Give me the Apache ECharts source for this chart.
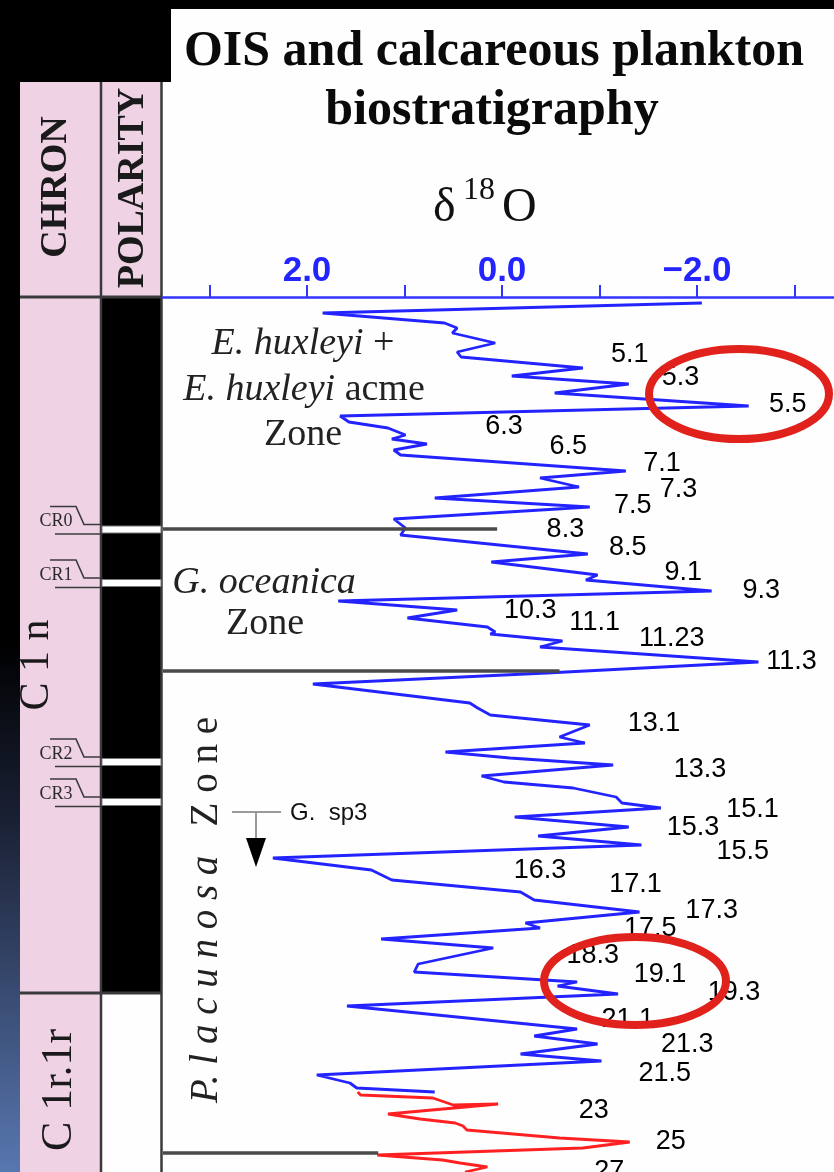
<!DOCTYPE html>
<html><head><meta charset="utf-8">
<script src="https://cdn.jsdelivr.net/npm/echarts@6/dist/echarts.min.js"></script>
<style>html,body{margin:0;padding:0;background:#000}#c{width:834px;height:1172px}</style>
</head><body><div id="c"></div>
<script>
// ---- data (δ18O in ‰, depth in arbitrary core units, downward) ----
const blueD18O = [-2.05,1.84,0.59,0.46,0.51,0.07,0.46,0.42,-0.83,-0.10,-1.30,-0.54,-2.53,1.66,1.57,1.17,0.99,1.13,0.77,1.11,1.04,-1.27,-0.39,-0.79,0.69,-0.90,1.11,0.99,1.04,-0.88,0.11,-0.98,-0.86,-2.15,1.68,0.46,0.97,0.15,0.07,0.12,-0.62,-0.39,-2.63,-0.46,1.94,0.33,0.25,0.12,-0.90,-0.59,-0.85,0.58,-0.08,-1.14,0.21,-0.02,-0.73,-1.17,-1.23,-1.63,-0.13,-1.30,-0.37,-1.43,2.35,1.34,1.13,-0.19,-0.33,-1.41,-0.24,-0.39,1.24,0.09,0.86,0.90,-0.77,-0.57,-1.19,1.59,-0.77,-0.33,-0.98,-0.19,-1.02,1.90,1.56,1.49,0.69];
const blueDepth = [0.6,1.6,2.6,3.1,3.6,4.6,5.5,6.0,7.1,7.9,8.7,9.6,10.9,11.9,12.5,13.1,13.8,14.2,14.7,15.3,15.8,17.4,18.1,19.0,20.1,21.0,22.2,23.1,23.8,25.7,26.5,27.8,28.3,29.4,30.4,31.3,32.1,33.0,33.5,33.7,34.4,35.0,36.5,37.6,38.7,40.6,41.1,41.8,42.8,44.0,44.6,45.5,46.1,46.8,47.9,48.5,49.1,50.0,50.6,51.1,52.0,53.0,53.9,54.8,56.1,57.3,58.3,59.5,60.3,61.5,62.6,63.1,64.2,65.1,66.7,67.5,68.5,68.9,69.7,70.9,73.2,73.9,74.7,75.7,76.4,77.8,78.6,79.1,79.5];
const redD18O = [1.48,1.45,0.71,0.50,0.04,1.17,0.84,0.48,0.40,0.36,-0.59,-1.31,-0.83,1.28,0.61,0.43,0.15,0.38];
const redDepth = [79.5,79.8,80.1,80.8,80.7,81.7,82.2,82.6,82.9,83.3,84.1,84.5,85.1,85.8,86.3,86.6,87.0,87.5];
const stageNames = ['5.1','5.3','5.5','6.3','6.5','7.1','7.3','7.5','8.3','8.5','9.1','9.3','10.3','11.1','11.23','11.3','13.1','13.3','15.1','15.3','15.5','16.3','17.1','17.3','17.5','18.3','19.1','19.3','21.1','21.3','21.5','23','25','27'];
const stageD18O = [-1.31,-1.83,-2.93,-0.02,-0.68,-1.64,-1.81,-1.34,-0.65,-1.29,-1.86,-2.66,-0.29,-0.95,-1.74,-2.97,-1.56,-2.03,-2.57,-1.96,-2.47,-0.39,-1.37,-2.15,-1.52,-0.93,-1.62,-2.38,-1.29,-1.90,-1.67,-0.94,-1.73,-1.10];
const stageDepth = [5.8,8.1,10.8,13.0,15.0,16.7,19.3,20.9,23.3,25.1,27.6,29.4,31.4,32.6,34.2,36.5,42.7,47.3,51.3,53.1,55.5,57.4,58.8,61.4,63.2,65.9,67.8,69.6,72.3,74.8,77.7,81.4,84.5,87.5];
const boundaryDepth = [23.2, 37.4, 85.6];
const boundaryEnd = [0.05, -0.59, 1.27];
const tickValues = [3, 2, 1, 0, -1, -2, -3];
const labelValues = [2, 0, -2];
const xMin = -3.405, xMax = 3.477, depthMax = 87.5;

// ---- build ----
const serifF = '"Liberation Serif","Times New Roman",serif';
const sansF = '"Liberation Sans",Arial,sans-serif';
const blue = blueD18O.map((v, i) => [v, blueDepth[i]]);
const red = redD18O.map((v, i) => [v, redDepth[i]]);
const stages = stageNames.map((n, i) => ({ name: n, value: [stageD18O[i], stageDepth[i]] }));
const boundaries = boundaryDepth.map((d, i) => [{ coord: [xMax, d] }, { coord: [boundaryEnd[i], d] }]);

function T(x, y, text, style, extra) {
  return Object.assign({ type: 'text', x: x, y: y,
    style: Object.assign({ text: text, align: 'center', verticalAlign: 'middle', fill: '#1a1a1a' }, style) }, extra || {});
}
function R(x, y, w, h, fill, extra) {
  return Object.assign({ type: 'rect', shape: { x: x, y: y, width: w, height: h }, style: { fill: fill } }, extra || {});
}
function L(pts, color, w, extra) {
  return Object.assign({ type: 'polyline', shape: { points: pts }, style: { stroke: color, lineWidth: w, fill: null } }, extra || {});
}

const g = [];
g.push(R(0, 640, 20, 532, { type: 'linear', x: 0, y: 0, x2: 0, y2: 1,
  colorStops: [{ offset: 0, color: '#000' }, { offset: 0.35, color: '#1b2236' }, { offset: 1, color: '#5877b0' }] }));
g.push(R(171, 9, 663, 80, '#fefefe'));
g.push(R(162, 82, 672, 1090, '#fefefe'));
g.push(R(20, 82, 81, 1090, '#efd3e5'));
g.push(R(102, 82, 59, 215, '#efd3e5'));
g.push(R(102, 298, 59, 695, '#000'));
g.push(R(102, 994, 59, 178, '#fefefe'));
g.push(L([[101, 82], [101, 1172]], '#3a3a3a', 2.5));
g.push(L([[161.5, 82], [161.5, 1172]], '#3a3a3a', 2.5));
g.push(L([[20, 297], [162, 297]], '#3a3a3a', 3));
g.push(L([[20, 993], [162, 993]], '#3a3a3a', 3));

const crs = [['CR0', 529.5], ['CR1', 583], ['CR2', 762], ['CR3', 802]];
crs.forEach(c => {
  const yc = c[1];
  g.push(R(102, yc - 3.5, 59, 7, '#fff', { style: { fill: '#fff', stroke: '#777', lineWidth: 1 } }));
  g.push(L([[50, yc - 23], [76, yc - 23], [84, yc - 5], [101, yc - 5]], '#3a3a3a', 1.6));
  g.push(L([[55, yc + 4.5], [101, yc + 4.5]], '#3a3a3a', 1.6));
  g.push(T(56, yc - 8, c[0], { font: '18px ' + serifF, fill: '#2a2a2a' }));
});

g.push(T(56, 187, 'CHRON', { font: 'bold 38px ' + serifF }, { rotation: Math.PI / 2 }));
g.push(T(133, 188, 'POLARITY', { font: 'bold 38px ' + serifF }, { rotation: Math.PI / 2 }));
g.push(T(37, 665, 'C 1 n', { font: '42px ' + serifF }, { rotation: Math.PI / 2 }));
g.push(T(59, 1090, 'C 1r.1r', { font: '44px ' + serifF }, { rotation: Math.PI / 2 }));

g.push(T(494, 52, 'OIS and calcareous plankton', { font: 'bold 50px ' + serifF, fill: '#0a0a0a' }));
g.push(T(492, 111, 'biostratigraphy', { font: 'bold 50px ' + serifF, fill: '#0a0a0a' }));
g.push(T(433, 208, 'δ', { font: '48px ' + serifF, align: 'left', fill: '#111' }));
g.push(T(463, 191, '18', { font: '32px ' + serifF, align: 'left', fill: '#111' }));
g.push(T(502, 208, 'O', { font: '48px ' + serifF, align: 'left', fill: '#111' }));

const it = { fontFamily: serifF, fontSize: 38, fontStyle: 'italic', fill: '#222' };
const rm = { fontFamily: serifF, fontSize: 38, fill: '#222' };
const itP = { fontFamily: serifF, fontSize: 39, fontStyle: 'italic', fill: '#222' };
const rmP = { fontFamily: serifF, fontSize: 39, fill: '#222' };
g.push(T(303, 344, '{i|E. huxleyi}{n| +}', { rich: { i: it, n: rm } }));
g.push(T(304, 390, '{i|E. huxleyi}{n| acme}', { rich: { i: it, n: rm } }));
g.push(T(303, 435, '{n|Zone}', { rich: { n: rm } }));
g.push(T(264, 583, '{i|G. oceanica}', { rich: { i: it } }));
g.push(T(265, 624, '{n|Zone}', { rich: { n: rm } }));
g.push(T(207, 910, '{i|P. l a c u n o s a}{n|   Z o n e}', { rich: { i: itP, n: rmP } }, { rotation: Math.PI / 2 }));

g.push(L([[232, 812], [281, 812]], '#9a9a9a', 2));
g.push(L([[256, 812], [256, 842]], '#9a9a9a', 2));
g.push({ type: 'polygon', shape: { points: [[246, 838], [266, 838], [256, 867]] }, style: { fill: '#000' } });
g.push(T(290, 813, 'G.  sp3', { font: '24px ' + sansF, align: 'left', fill: '#111' }));

g.push({ type: 'ellipse', z: 100, shape: { cx: 739, cy: 394, rx: 90, ry: 45 }, style: { fill: null, stroke: '#e1221c', lineWidth: 8 } });
g.push({ type: 'ellipse', z: 100, shape: { cx: 635, cy: 981, rx: 91, ry: 44 }, style: { fill: null, stroke: '#e1221c', lineWidth: 8 } });

const chart = echarts.init(document.getElementById('c'), null, { renderer: 'canvas' });
chart.setOption({
  animation: false,
  backgroundColor: '#000',
  graphic: { elements: g },
  grid: { left: 163, right: 0, top: 297, bottom: 0, containLabel: false },
  xAxis: {
    type: 'value', position: 'top', inverse: true, min: xMin, max: xMax,
    axisLine: { show: true, onZero: false, lineStyle: { color: '#3434ff', width: 2.5 } },
    axisTick: { show: true, inside: false, length: 12, customValues: tickValues, lineStyle: { color: '#3434ff', width: 2 } },
    axisLabel: { customValues: labelValues, margin: 8, color: '#2424ff', fontSize: 35, fontWeight: 'bold', fontFamily: sansF,
      formatter: v => (v < 0 ? '\u2212' : '') + Math.abs(v).toFixed(1) },
    splitLine: { show: false }
  },
  yAxis: { type: 'value', inverse: true, min: 0, max: depthMax, show: false },
  series: [
    { type: 'line', data: blue, showSymbol: false, symbol: 'none', z: 3,
      lineStyle: { color: '#2323ff', width: 2.8 },
      markLine: { silent: true, symbol: 'none', label: { show: false }, animation: false,
        lineStyle: { color: '#4a4a4a', width: 3.5, type: 'solid' }, data: boundaries } },
    { type: 'line', data: red, showSymbol: false, symbol: 'none', z: 3, lineStyle: { color: '#ff2121', width: 2.8 } },
    { type: 'scatter', data: stages, symbol: 'circle', symbolSize: 1, clip: false, z: 4,
      itemStyle: { color: '#fefefe', opacity: 1 },
      label: { show: true, position: 'inside', formatter: '{b}', color: '#000', opacity: 1, fontSize: 27, fontFamily: sansF, textBorderWidth: 0 } }
  ]
});
</script>
</body></html>
